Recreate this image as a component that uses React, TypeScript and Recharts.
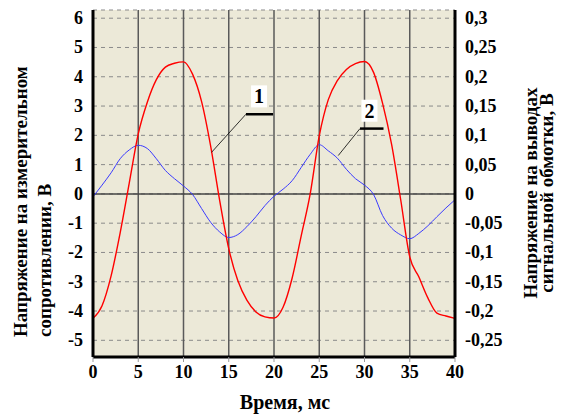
import {
  ComposedChart,
  Line,
  XAxis,
  YAxis,
  CartesianGrid,
  ReferenceLine,
  ReferenceDot,
} from 'recharts'

// время, мс
const timeMs = [
  0, 1, 2, 3, 4, 5, 6, 7, 8, 9, 10, 11, 12, 13, 14, 15, 16, 17, 18, 19, 20,
  21, 22, 23, 24, 25, 26, 27, 28, 29, 30, 31, 32, 33, 34, 35, 36, 37, 38, 39, 40,
]

// 1 - напряжение на измерительном сопротивлении, В (левая ось)
const resistorVoltage = [
  -4.25, -3.82, -2.8, -1.33, 0.36, 2.05, 3.13, 3.9, 4.33, 4.46, 4.51, 4.09, 3.15, 1.63,
  -0.23, -1.87, -2.96, -3.63, -4.03, -4.2, -4.24, -3.87, -2.88, -1.44, 0.0, 1.98, 3.22,
  3.87, 4.25, 4.45, 4.52, 4.15, 3.09, 1.68, -0.2, -2.15, -2.83, -3.55, -4.07, -4.17, -4.25,
]

// 2 - напряжение на выводах сигнальной обмотки, В (правая ось)
const windingVoltage = [
  -0.005, 0.015, 0.036, 0.06, 0.075, 0.083, 0.0775, 0.06, 0.04, 0.026, 0.0135,
  -0.001, -0.025, -0.0485, -0.065, -0.0745, -0.0695, -0.056, -0.039, -0.02, -0.004,
  0.008, 0.0225, 0.045, 0.0675, 0.084, 0.0735, 0.061, 0.042, 0.026, 0.015,
  -0.001, -0.037, -0.0585, -0.07, -0.0765, -0.0675, -0.0545, -0.039, -0.024, -0.01,
]

const timeTicks = [0, 5, 10, 15, 20, 25, 30, 35, 40]
const leftTicks = [-5, -4, -3, -2, -1, 0, 1, 2, 3, 4, 5, 6]
const rightTicks = [-0.25, -0.2, -0.15, -0.1, -0.05, 0, 0.05, 0.1, 0.15, 0.2, 0.25, 0.3]

const data = timeMs.map((t, i) => ({
  t,
  r: resistorVoltage[i],
  w: windingVoltage[i],
}))

const font = 'Liberation Serif'
const tickFont = { fontFamily: font, fontWeight: 'bold', fontSize: 18 } as const
const titleFont = { fontFamily: font, fontWeight: 'bold', fontSize: 19 } as const

const callouts = [
  { text: '1', box: { x: 18.35, y: 3.33 }, from: { x: 13.1, y: 1.42 }, a: { x: 16.9, y: 2.72 }, b: { x: 19.9, y: 2.72 } },
  { text: '2', box: { x: 30.55, y: 2.84 }, from: { x: 27.1, y: 1.31 }, a: { x: 29.5, y: 2.23 }, b: { x: 32.1, y: 2.23 } },
]

const comma = (v: number) => String(Math.round(v * 100) / 100).replace('.', ',')

const XTick = (p: any) => (
  <text x={p.x} y={p.y} dy={13} textAnchor="middle" fill="#000" fontFamily={font} style={tickFont}>
    {p.payload.value}
  </text>
)

const LeftTick = (p: any) => (
  <text x={p.x} y={p.y} textAnchor="end" dominantBaseline="central" fill="#000" fontFamily={font} style={tickFont}>
    {p.payload.value}
  </text>
)

const RightTick = (p: any) => (
  <text x={p.x} y={p.y} textAnchor="start" dominantBaseline="central" fill="#000" fontFamily={font} style={tickFont}>
    {comma(p.payload.value)}
  </text>
)

const boxShape = (text: string) => (props: any) => (
  <g>
    <rect x={props.cx - 8} y={props.cy - 11} width={16} height={22} fill="#fff" />
    <text
      x={props.cx}
      y={props.cy}
      textAnchor="middle"
      dominantBaseline="central"
      style={{ fontFamily: font, fontWeight: 'bold', fontSize: 20 }}
      fill="#000"
    >
      {text}
    </text>
  </g>
)

export default function App() {
  return (
    <div style={{ position: 'relative', width: 561, height: 414, background: '#fff', fontFamily: font }}>
      <style>{'body{margin:0}'}</style>
      <ComposedChart width={561} height={414} data={data} margin={{ top: 10, right: 0, bottom: 0, left: 0 }}>
        <CartesianGrid yAxisId="left" vertical={false} stroke="#8a8a8a" strokeDasharray="4 4" fill="#ECE9D8" fillOpacity={1} />
        <CartesianGrid yAxisId="left" horizontal={false} stroke="#5a5a5a" strokeWidth={1.5} />
        <XAxis
          dataKey="t"
          type="number"
          domain={[0, 40]}
          ticks={timeTicks}
          allowDataOverflow
          height={57}
          tick={XTick}
          tickSize={5}
          tickMargin={3}
          tickLine={{ stroke: '#999' }}
          axisLine={{ stroke: '#000', strokeWidth: 3 }}
        />
        <YAxis
          yAxisId="left"
          width={93}
          domain={[-5.57, 6.28]}
          ticks={leftTicks}
          allowDataOverflow
          tick={LeftTick}
          tickLine={false}
          tickSize={0}
          tickMargin={10}
          axisLine={{ stroke: '#000', strokeWidth: 3 }}
        />
        <YAxis
          yAxisId="right"
          orientation="right"
          width={106}
          domain={[-0.2785, 0.314]}
          ticks={rightTicks}
          allowDataOverflow
          tick={RightTick}
          tickLine={false}
          tickSize={0}
          tickMargin={10}
          axisLine={{ stroke: '#000', strokeWidth: 3 }}
        />
        <ReferenceLine yAxisId="left" y={0} stroke="#444" strokeWidth={1.5} />
        <Line
          yAxisId="right"
          dataKey="w"
          type="monotone"
          stroke="#3a3aff"
          strokeWidth={1}
          dot={false}
          isAnimationActive={false}
        />
        <Line
          yAxisId="left"
          dataKey="r"
          type="monotone"
          stroke="#ff0000"
          strokeWidth={1.4}
          dot={false}
          isAnimationActive={false}
        />
        {callouts.map((c) => (
          <ReferenceLine key={'l' + c.text} yAxisId="left" segment={[c.from, c.a]} stroke="#000" strokeWidth={0.8} />
        ))}
        {callouts.map((c) => (
          <ReferenceLine key={'u' + c.text} yAxisId="left" segment={[c.a, c.b]} stroke="#000" strokeWidth={2.5} />
        ))}
        {callouts.map((c) => (
          <ReferenceDot key={'b' + c.text} yAxisId="left" x={c.box.x} y={c.box.y} r={0} shape={boxShape(c.text)} />
        ))}
      </ComposedChart>
      <svg width={561} height={414} style={{ position: 'absolute', left: 0, top: 0, pointerEvents: 'none' }}>
        <text x={20} y={337} transform="rotate(-90 20 337)" dominantBaseline="central" fill="#000" style={titleFont}>
          Напряжение на измерительном
        </text>
        <text x={44} y={337} transform="rotate(-90 44 337)" dominantBaseline="central" fill="#000" style={titleFont}>
          сопротивлении, В
        </text>
        <text x={530} y={193} transform="rotate(-90 530 193)" textAnchor="middle" dominantBaseline="central" fill="#000" style={titleFont}>
          Напряжение на выводах
        </text>
        <text x={546} y={193} transform="rotate(-90 546 193)" textAnchor="middle" dominantBaseline="central" fill="#000" style={titleFont}>
          сигнальной обмотки, В
        </text>
        <text x={285} y={409} textAnchor="middle" fill="#000" style={{ ...titleFont, fontSize: 20 }}>
          Время, мс
        </text>
      </svg>
    </div>
  )
}
